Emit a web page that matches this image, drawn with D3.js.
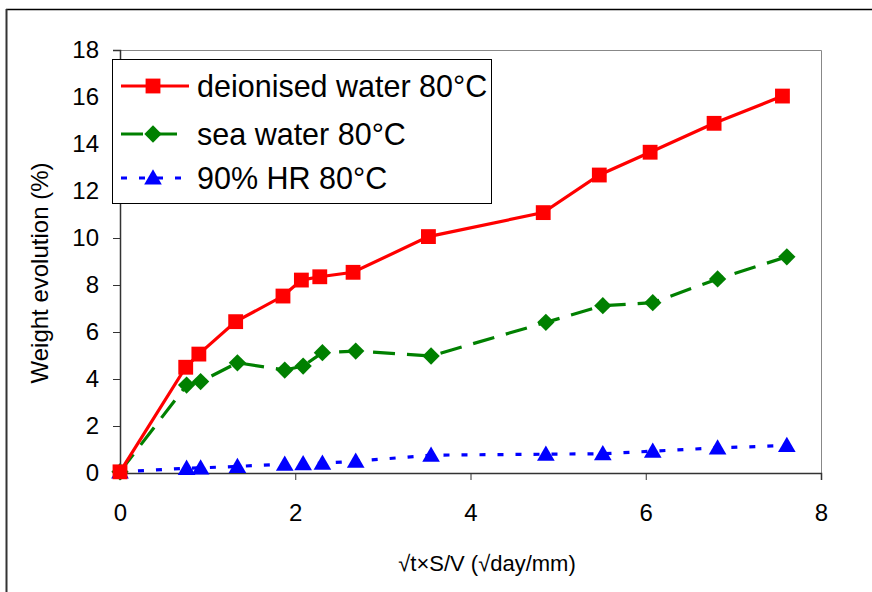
<!DOCTYPE html>
<html><head><meta charset="utf-8">
<script src="https://cdn.jsdelivr.net/npm/d3@7"></script>
<style>body{margin:0;background:#fff;}svg{display:block;font-family:"Liberation Sans",Arial,sans-serif;}</style>
</head><body>
<script>
const xTicks = [0, 2, 4, 6, 8];
const yTicks = [0, 2, 4, 6, 8, 10, 12, 14, 16, 18];
const seriesNames = ["deionised water 80°C", "sea water 80°C", "90% HR 80°C"];
const xDeionised = [0, 0.75, 0.90, 1.32, 1.86, 2.07, 2.28, 2.66, 3.52, 4.83, 5.47, 6.05, 6.78, 7.56];
const yDeionised = [0.05, 4.50, 5.06, 6.44, 7.53, 8.21, 8.35, 8.54, 10.06, 11.08, 12.68, 13.65, 14.88, 16.04];
const xSea = [0, 0.76, 0.92, 1.34, 1.88, 2.09, 2.31, 2.69, 3.55, 4.86, 5.51, 6.08, 6.82, 7.61];
const ySea = [0.05, 3.74, 3.89, 4.69, 4.38, 4.55, 5.12, 5.19, 4.98, 6.41, 7.12, 7.25, 8.26, 9.20];
const xHR = [0, 0.76, 0.92, 1.34, 1.88, 2.09, 2.31, 2.69, 3.55, 4.86, 5.51, 6.08, 6.82, 7.61];
const yHR = [0.05, 0.20, 0.22, 0.28, 0.38, 0.40, 0.42, 0.50, 0.76, 0.80, 0.82, 0.93, 1.07, 1.17];

const W = 872, H = 592;
const svg = d3.select("body").append("svg").attr("width", W).attr("height", H);

// outer frame
svg.append("line").attr("x1", 6).attr("x2", W).attr("y1", 9.5).attr("y2", 9.5).attr("stroke", "#000").attr("stroke-width", 1.5);
svg.append("line").attr("x1", 6.5).attr("x2", 6.5).attr("y1", 9).attr("y2", H).attr("stroke", "#333").attr("stroke-width", 2);

const L = 120, R = 821, T = 50, B = 473;
const x = d3.scaleLinear().domain([0, 8]).range([L, R]);
const y = d3.scaleLinear().domain([0, 18]).range([B, T]);

// plot-area border (top/right gray)
svg.append("path").attr("d", `M${L},${T+0.5}H${R+0.5}V${B}`).attr("fill", "none").attr("stroke", "#888").attr("stroke-width", 1);

const xAxis = svg.append("g").attr("transform", `translate(0,${B})`)
  .call(d3.axisBottom(x).tickValues(xTicks).tickSize(7).tickPadding(24).tickFormat(d3.format("d")));
const yAxis = svg.append("g").attr("transform", `translate(${L},0)`)
  .call(d3.axisLeft(y).tickValues(yTicks).tickSize(7).tickPadding(14).tickFormat(d3.format("d")));
[xAxis, yAxis].forEach(g => {
  g.select(".domain").attr("stroke", "#333").attr("stroke-width", 1.5);
  g.selectAll(".tick line").attr("stroke", "#333").attr("stroke-width", 1);
  g.selectAll("text").attr("fill", "#000").style("font-size", "24px").style("font-family", "Liberation Sans, Arial, sans-serif");
});

svg.append("text").attr("x", 487).attr("y", 571).attr("text-anchor", "middle")
  .style("font-size", "22px").text("√t×S/V (√day/mm)");
svg.append("text").attr("transform", "translate(48,273) rotate(-90)").attr("text-anchor", "middle")
  .style("font-size", "24px").text("Weight evolution (%)");

const diamond = {draw(ctx, size) { const r = Math.sqrt(size / 2); ctx.moveTo(0, -r); ctx.lineTo(r, 0); ctx.lineTo(0, r); ctx.lineTo(-r, 0); ctx.closePath(); }};

const series = [
  {name: seriesNames[0], xs: xDeionised, ys: yDeionised, color: "#FF0000", dash: null, sym: d3.symbolSquare, size: 220},
  {name: seriesNames[1], xs: xSea, ys: ySea, color: "#008000", dash: "22,12", sym: diamond, size: 150},
  {name: seriesNames[2], xs: xHR, ys: yHR, color: "#0000FF", dash: "6,12", sym: d3.symbolTriangle, size: 135},
];

const line = d3.line().x(d => x(d[0])).y(d => y(d[1]));
series.slice().reverse().forEach(s => {
  const pts = s.xs.map((v, i) => [v, s.ys[i]]);
  svg.append("path").datum(pts).attr("d", line).attr("fill", "none")
    .attr("stroke", s.color).attr("stroke-width", 3.2).attr("stroke-dasharray", s.dash);
  svg.append("g").selectAll("path").data(pts).join("path")
    .attr("transform", d => `translate(${x(d[0])},${y(d[1]) + (s.sym === d3.symbolTriangle ? 1.5 : 0)})`)
    .attr("d", d3.symbol(s.sym, s.size)).attr("fill", s.color);
});

// legend
const lg = svg.append("g");
lg.append("rect").attr("x", 112.5).attr("y", 59.5).attr("width", 379).attr("height", 144)
  .attr("fill", "#fff").attr("stroke", "#000").attr("stroke-width", 1);
const rowY = [86, 134, 178];
series.forEach((s, i) => {
  lg.append("line").attr("x1", 121).attr("x2", 189).attr("y1", rowY[i]).attr("y2", rowY[i])
    .attr("stroke", s.color).attr("stroke-width", 3.2).attr("stroke-dasharray", s.dash);
  lg.append("path").attr("transform", `translate(153,${rowY[i] + (s.sym === d3.symbolTriangle ? 1.5 : 0)})`)
    .attr("d", d3.symbol(s.sym, s.size)).attr("fill", s.color);
  lg.append("text").attr("x", 197).attr("y", rowY[i] + 10.5).style("font-size", "30.5px").attr("fill", "#000").text(s.name);
});
</script>
</body></html>
